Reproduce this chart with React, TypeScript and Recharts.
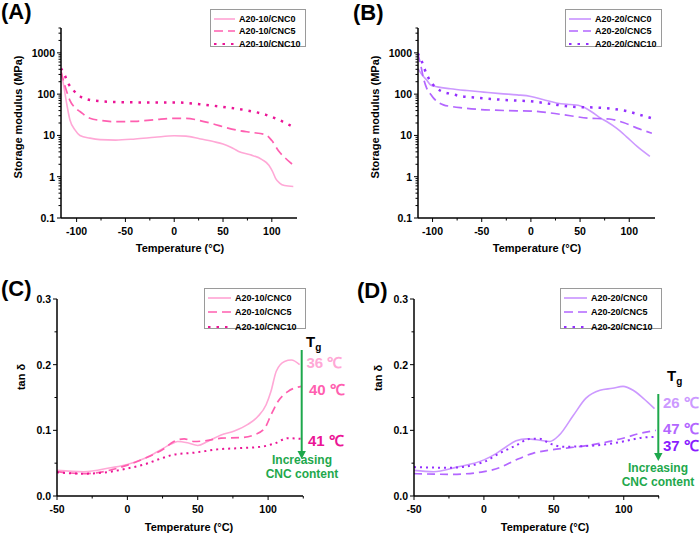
import React from "react";
import { LineChart, Line, XAxis, YAxis } from "recharts";

// (A) A20-10 storage modulus (MPa) vs temperature (°C)
const tA0 = [-116, -113, -110.3, -106.9, -101.7, -96.6, -86.4, -76, -60, -40, -20, 0, 12, 26, 40, 50, 58, 66, 78, 90, 97, 101, 104, 108, 113, 122];
const eA0 = [380, 150, 61, 24, 13.6, 10, 8.6, 7.9, 7.7, 8.2, 9, 9.8, 9.6, 8.3, 7.1, 6.2, 5.2, 4.1, 3.4, 2.6, 1.9, 1.3, 0.9, 0.7, 0.61, 0.58];
const tA5 = [-116, -112, -107, -101, -96.6, -86.4, -75, -60, -40, -20, 0, 12, 26, 40, 53, 67, 80, 94, 100, 107, 114, 121];
const eA5 = [350, 160, 72, 45, 38, 26, 23, 21.5, 22, 24, 26, 26, 23, 19, 15.5, 13, 11.8, 10.3, 7.5, 4.2, 2.8, 2.0];
const tA10 = [-116, -112, -108.6, -103.5, -93, -78, -50, -20, 0, 26, 53, 73, 94, 107, 121];
const eA10 = [420, 280, 183, 126, 80, 68, 63.5, 63, 63, 57, 48, 41, 31.5, 24, 16.4];

// (B) A20-20 storage modulus
const tB0 = [-115, -110, -106, -102, -95, -82, -65, -48, -31, -14, 0, 13, 26, 40, 48, 54, 62, 70, 77, 87, 97, 108, 121];
const eB0 = [420, 280, 220, 167, 150, 135, 122, 112, 103, 96, 88, 73, 61, 56, 54, 48, 37, 27, 21.7, 15, 9.4, 5.4, 3.1];
const tB5 = [-115, -112, -109, -106, -102, -99, -94, -89, -80, -72, -55, -38, -14, 0, 20, 40, 60, 72, 80, 94, 108, 123];
const eB5 = [970, 500, 230, 140, 100, 80, 63, 55, 50, 47, 43, 41, 39.5, 39, 35, 30, 26, 25.5, 25, 20.5, 15, 11.3];
const tB10 = [-115, -110.8, -105.7, -100.6, -92, -80, -72, -55, -38, -21, 0, 20, 40, 50, 60, 80, 97, 111, 123];
const eB10 = [970, 610, 290, 183, 121, 100, 90, 82, 75.5, 71, 67, 58, 50, 48.5, 48, 45, 39, 31.5, 26];

// (C) A20-10 tan delta
const tC0 = [-50, -31, -12, 0, 12, 21, 31, 35.7, 42.8, 50, 57, 66.6, 76, 85.6, 92.7, 98.6, 102, 105.8, 111.7, 116.5, 122.4];
const dC0 = [0.039, 0.037, 0.043, 0.048, 0.057, 0.067, 0.079, 0.083, 0.081, 0.077, 0.083, 0.093, 0.099, 0.109, 0.121, 0.139, 0.159, 0.19, 0.205, 0.207, 0.2];
const tC5 = [-50, -31, 0, 12, 26, 33, 40.4, 47.5, 54.7, 66.6, 80.8, 90, 97.5, 102, 107, 114, 123.6];
const dC5 = [0.037, 0.034, 0.047, 0.057, 0.072, 0.083, 0.087, 0.083, 0.084, 0.088, 0.089, 0.093, 0.103, 0.123, 0.144, 0.159, 0.167];
const tC10 = [-50, -31, -12, 0, 12, 23.8, 33, 47.5, 64, 80.8, 95, 104.6, 114, 123.6];
const dC10 = [0.036, 0.034, 0.037, 0.042, 0.048, 0.057, 0.063, 0.066, 0.071, 0.073, 0.075, 0.08, 0.088, 0.087];

// (D) A20-20 tan delta
const tD0 = [-50, -36, -19.5, 0, 9, 16, 23, 30.5, 40, 47, 54, 64, 73, 83, 92, 99.5, 106.7, 113.8, 122];
const dD0 = [0.039, 0.037, 0.044, 0.055, 0.065, 0.075, 0.084, 0.087, 0.085, 0.083, 0.093, 0.123, 0.149, 0.161, 0.164, 0.167, 0.161, 0.149, 0.133];
const tD5 = [-50, -24, 0, 11, 23, 35, 47, 59, 71, 85, 99.5, 111, 123];
const dD5 = [0.034, 0.033, 0.037, 0.043, 0.055, 0.065, 0.07, 0.073, 0.076, 0.081, 0.088, 0.095, 0.1];
const tD10 = [-50, -24, 0, 11, 23, 33, 40, 47, 56.7, 71, 85, 99.5, 113.8, 122];
const dD10 = [0.044, 0.043, 0.052, 0.065, 0.077, 0.087, 0.087, 0.08, 0.075, 0.076, 0.078, 0.083, 0.089, 0.09];

// ticks
const xMajorE = [-100, -50, 0, 50, 100];
const xMinorE = [-75, -25, 25, 75];
const yMajorE = [0.1, 1, 10, 100, 1000];
const yMinorE = [0.2, 0.3, 0.4, 0.5, 0.6, 0.7, 0.8, 0.9, 2, 3, 4, 5, 6, 7, 8, 9, 20, 30, 40, 50, 60, 70, 80, 90, 200, 300, 400, 500, 600, 700, 800, 900, 2000, 3000, 4000];
const xMajorT = [-50, 0, 50, 100];
const xMinorT = [-25, 25, 75, 125];
const yMajorT = [0, 0.1, 0.2, 0.3];
const yMinorT = [0.05, 0.15, 0.25];

const PINK = ["#ffa8d6", "#ff5fb0", "#eb1596"];
const PURPLE = ["#cc99ff", "#b366ff", "#9430ff"];
const GREEN = "#1ea84c";
const FONT = '"Liberation Sans", Arial, sans-serif';

const zip = (t: number[], v: number[]) => t.map((x, i) => ({ t: x, v: v[i] }));

// eslint-disable-next-line @typescript-eslint/no-explicit-any
function XTick({ x, y, payload, majors }: any) {
  const major = majors.includes(payload.value);
  return (
    <g>
      <line x1={x} x2={x} y1={y} y2={y + (major ? 4 : 2.5)} stroke="#000" strokeWidth={1} />
      {major && (
        <text x={x} y={y + 13} textAnchor="middle" dominantBaseline="central" fontSize={10.5} fontWeight="bold" fontFamily={FONT} fill="#000">
          {payload.value}
        </text>
      )}
    </g>
  );
}

// eslint-disable-next-line @typescript-eslint/no-explicit-any
function YTick({ x, y, payload, majors, fmt }: any) {
  const major = majors.includes(payload.value);
  return (
    <g>
      <line x1={x} x2={x - (major ? 4 : 2.5)} y1={y} y2={y} stroke="#000" strokeWidth={1} />
      {major && (
        <text x={x - 6} y={y} textAnchor="end" dominantBaseline="central" fontSize={10.5} fontWeight="bold" fontFamily={FONT} fill="#000">
          {fmt(payload.value)}
        </text>
      )}
    </g>
  );
}

interface Series {
  data: { t: number; v: number }[];
  color: string;
  kind: number; // 0 solid, 1 dashed, 2 dotted
}

const dashFor = (kind: number, big: boolean) =>
  kind === 0 ? undefined : kind === 1 ? (big ? "9 5" : "8 5") : big ? "2.5 6" : "2 4";

interface PanelProps {
  left: number;
  top: number;
  width: number;
  height: number;
  margin: { top: number; right: number; bottom: number; left: number };
  xDomain: [number, number];
  log: boolean;
  series: Series[];
}

function Panel({ left, top, width, height, margin, xDomain, log, series }: PanelProps) {
  const xMaj = log ? xMajorE : xMajorT;
  const xMin = log ? xMinorE : xMinorT;
  const yMaj = log ? yMajorE : yMajorT;
  const yMin = log ? yMinorE : yMinorT;
  const fmt = log ? (v: number) => String(v) : (v: number) => v.toFixed(1);
  return (
    <div style={{ position: "absolute", left, top }}>
      <LineChart width={width} height={height} margin={margin}>
        <XAxis
          dataKey="t"
          type="number"
          domain={xDomain}
          allowDataOverflow
          ticks={[...xMaj, ...xMin].sort((a, b) => a - b)}
          interval={0}
          tickSize={0}
          tickMargin={0}
          tickLine={false}
          height={20}
          axisLine={{ stroke: "#000", strokeWidth: 1.5 }}
          tick={<XTick majors={xMaj} />}
        />
        <YAxis
          type="number"
          scale={log ? "log" : "linear"}
          domain={log ? [0.1, 4000] : [0, 0.3]}
          allowDataOverflow
          ticks={[...yMaj, ...yMin].sort((a, b) => a - b)}
          interval={0}
          tickSize={0}
          tickMargin={0}
          tickLine={false}
          width={40}
          axisLine={{ stroke: "#000", strokeWidth: 1.5 }}
          tick={<YTick majors={yMaj} fmt={fmt} />}
        />
        {series.map((s, i) => (
          <Line
            key={i}
            data={s.data}
            dataKey="v"
            type="monotone"
            stroke={s.color}
            strokeWidth={s.kind === 0 ? 1.6 : s.kind === 1 ? 1.7 : log ? 2.5 : 2}
            strokeDasharray={dashFor(s.kind, log)}
            dot={false}
            isAnimationActive={false}
          />
        ))}
      </LineChart>
    </div>
  );
}

function LegendBox({ left, top, width, height, labels, colors, rowGap, sample }: {
  left: number; top: number; width: number; height: number; labels: string[]; colors: string[]; rowGap: number; sample: number;
}) {
  return (
    <div
      style={{
        position: "absolute", left, top, width, height, boxSizing: "border-box",
        border: "1px solid #9a9a9a", background: "#fff",
      }}
    >
      {labels.map((lab, i) => (
        <div key={lab} style={{ position: "absolute", left: 2, top: 3 + i * rowGap, height: 12, display: "flex", alignItems: "center" }}>
          <svg width={sample} height={12}>
            <line x1={1} x2={sample - 1} y1={6} y2={6} stroke={colors[i]} strokeWidth={i === 2 ? 2.2 : 1.7} strokeDasharray={dashFor(i, true)} />
          </svg>
          <span style={{ marginLeft: 3, fontSize: 9, fontWeight: "bold", fontFamily: FONT, color: "#000", whiteSpace: "nowrap" }}>{lab}</span>
        </div>
      ))}
    </div>
  );
}

const txt = (style: React.CSSProperties, content: React.ReactNode, key?: string) => (
  <div key={key} style={{ position: "absolute", fontFamily: FONT, fontWeight: "bold", whiteSpace: "nowrap", lineHeight: 1, ...style }}>{content}</div>
);

const vlabel = (cx: number, cy: number, s: string) =>
  txt({ left: cx, top: cy, fontSize: 11, transform: "translate(-50%, -50%) rotate(-90deg)" }, s);

const hlabel = (cx: number, cy: number, s: string) =>
  txt({ left: cx, top: cy, fontSize: 11, transform: "translate(-50%, -50%)" }, s);

const tempLabel = "Temperature (\u00b0C)";
const namesA = ["A20-10/CNC0", "A20-10/CNC5", "A20-10/CNC10"];
const namesB = ["A20-20/CNC0", "A20-20/CNC5", "A20-20/CNC10"];
const tgC = ["36 \u2103", "40 \u2103", "41 \u2103"];
const tgD = ["26 \u2103", "47 \u2103", "37 \u2103"];

export default function App() {
  return (
    <div style={{ position: "absolute", left: 0, top: 0, width: 700, height: 535, overflow: "hidden", background: "#fff" }}>
      <Panel
        left={0} top={0} width={350} height={265}
        margin={{ top: 28, right: 53, bottom: 27, left: 21 }}
        xDomain={[-116, 125.8]} log
        series={[
          { data: zip(tA0, eA0), color: PINK[0], kind: 0 },
          { data: zip(tA5, eA5), color: PINK[1], kind: 1 },
          { data: zip(tA10, eA10), color: PINK[2], kind: 2 },
        ]}
      />
      <Panel
        left={350} top={0} width={350} height={265}
        margin={{ top: 28, right: 45, bottom: 27, left: 28 }}
        xDomain={[-114.8, 126.2]} log
        series={[
          { data: zip(tB0, eB0), color: PURPLE[0], kind: 0 },
          { data: zip(tB5, eB5), color: PURPLE[1], kind: 1 },
          { data: zip(tB10, eB10), color: PURPLE[2], kind: 2 },
        ]}
      />
      <Panel
        left={0} top={265} width={350} height={270}
        margin={{ top: 34, right: 47, bottom: 19, left: 17 }}
        xDomain={[-50, 124.8]} log={false}
        series={[
          { data: zip(tC0, dC0), color: PINK[0], kind: 0 },
          { data: zip(tC5, dC5), color: PINK[1], kind: 1 },
          { data: zip(tC10, dC10), color: PINK[2], kind: 2 },
        ]}
      />
      <Panel
        left={350} top={265} width={350} height={270}
        margin={{ top: 34, right: 41, bottom: 19, left: 24 }}
        xDomain={[-50, 125.2]} log={false}
        series={[
          { data: zip(tD0, dD0), color: PURPLE[0], kind: 0 },
          { data: zip(tD5, dD5), color: PURPLE[1], kind: 1 },
          { data: zip(tD10, dD10), color: PURPLE[2], kind: 2 },
        ]}
      />

      {txt({ left: 1, top: 1, fontSize: 22 }, "(A)")}
      {txt({ left: 353, top: 2, fontSize: 22 }, "(B)")}
      {txt({ left: 1, top: 278, fontSize: 22 }, "(C)")}
      {txt({ left: 357, top: 280, fontSize: 22 }, "(D)")}

      {vlabel(18, 117, "Storage modulus (MPa)")}
      {vlabel(375, 117, "Storage modulus (MPa)")}
      {vlabel(21, 377, "tan \u03b4")}
      {vlabel(378, 378, "tan \u03b4")}
      {hlabel(180, 248, tempLabel)}
      {hlabel(537, 248, tempLabel)}
      {hlabel(189, 527, tempLabel)}
      {hlabel(545, 527, tempLabel)}

      <LegendBox left={210} top={9} width={96} height={38} labels={namesA} colors={PINK} rowGap={12.3} sample={23} />
      <LegendBox left={565} top={9} width={97} height={38} labels={namesB} colors={PURPLE} rowGap={12.3} sample={24} />
      <LegendBox left={204} top={288} width={102} height={41} labels={namesA} colors={PINK} rowGap={14.3} sample={25} />
      <LegendBox left={560} top={288} width={102} height={41} labels={namesB} colors={PURPLE} rowGap={14.3} sample={25} />

      <svg style={{ position: "absolute", left: 0, top: 0 }} width={700} height={535}>
        <line x1={301.7} x2={301.7} y1={350} y2={452} stroke={GREEN} strokeWidth={2} />
        <polygon points="297.5,451 305.9,451 301.7,459" fill={GREEN} />
        <line x1={658.3} x2={658.3} y1={394} y2={454} stroke={GREEN} strokeWidth={2} />
        <polygon points="654.1,453 662.5,453 658.3,461" fill={GREEN} />
      </svg>

      {txt({ left: 306, top: 334, fontSize: 15 }, <span>T<sub style={{ fontSize: 10 }}>g</sub></span>)}
      {tgC.map((s, i) =>
        txt({ left: [306.5, 309, 308][i], top: [361.5, 389, 440][i], fontSize: 15, color: PINK[i], transform: "translateY(-50%)" }, s, s)
      )}
      {txt({ left: 302, top: 467, fontSize: 12, color: GREEN, textAlign: "center", lineHeight: "14px", transform: "translate(-50%, -50%)" }, <span>Increasing<br />CNC content</span>)}

      {txt({ left: 667, top: 368, fontSize: 15 }, <span>T<sub style={{ fontSize: 10 }}>g</sub></span>)}
      {tgD.map((s, i) =>
        txt({ left: 663, top: [401.5, 427.5, 445][i], fontSize: 15, color: ["#cc99ff", "#b366ff", "#8a1cff"][i], transform: "translateY(-50%)" }, s, s)
      )}
      {txt({ left: 658, top: 475, fontSize: 12, color: GREEN, textAlign: "center", lineHeight: "14px", transform: "translate(-50%, -50%)" }, <span>Increasing<br />CNC content</span>)}
    </div>
  );
}
